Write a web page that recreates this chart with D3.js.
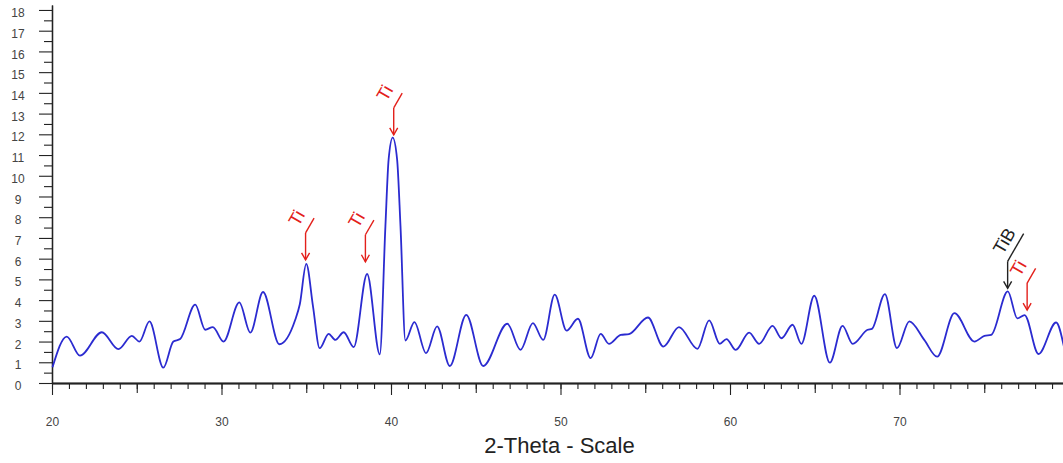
<!DOCTYPE html>
<html>
<head>
<meta charset="utf-8">
<script src="https://cdn.jsdelivr.net/npm/d3@7"></script>
<style>
  html, body { margin: 0; padding: 0; background: #fff; }
  svg { display: block; font-family: "Liberation Sans", Arial, sans-serif; }
</style>
</head>
<body>
<div id="xrdContainer"></div>
<script>
// diffractogram (peaks / troughs / flanks)
var twoTheta = [20.03, 20.87, 21.65, 22.94, 23.92, 24.71, 25.16, 25.75, 26.57, 27.16,
  27.56, 28.45, 29.04, 29.49, 30.12, 31.05, 31.70, 32.45, 33.41, 34.35,
  34.62, 35.00, 35.40, 35.79, 36.32, 36.72, 37.21, 37.80, 38.59, 39.34,
  39.67, 39.86, 40.10, 40.36, 40.56, 40.85, 41.38, 42.07, 42.72, 43.47,
  44.44, 45.44, 46.86, 47.64, 48.37, 48.98, 49.66, 50.36, 51.03, 51.78,
  52.37, 52.86, 53.55, 54.04, 55.16, 56.07, 56.99, 58.08, 58.77, 59.40,
  59.79, 60.34, 61.13, 61.72, 62.51, 63.04, 63.69, 64.21, 64.97, 65.89,
  66.64, 67.24, 68.12, 68.37, 69.14, 69.85, 70.58, 71.46, 72.22, 73.24,
  74.42, 75.01, 75.41, 76.39, 76.95, 77.38, 78.20, 79.24, 79.70]
var counts = [0.76, 2.24, 1.32, 2.45, 1.63, 2.27, 2.00, 2.97, 0.74, 2.00,
  2.12, 3.78, 2.57, 2.70, 2.00, 3.89, 2.43, 4.39, 1.87, 3.05,
  3.80, 5.75, 3.69, 1.68, 2.37, 2.08, 2.45, 1.73, 5.26, 1.38,
  7.57, 10.79, 11.84, 10.79, 7.57, 2.05, 2.94, 1.44, 2.73, 0.82,
  3.29, 0.82, 2.86, 1.60, 2.89, 2.08, 4.26, 2.53, 3.10, 1.20,
  2.37, 1.89, 2.32, 2.36, 3.16, 1.76, 2.70, 1.65, 3.02, 1.89,
  2.12, 1.60, 2.43, 1.89, 2.76, 2.16, 2.81, 1.89, 4.21, 0.98,
  2.76, 1.89, 2.57, 2.61, 4.29, 1.68, 2.97, 2.08, 1.27, 3.37,
  2.00, 2.27, 2.32, 4.42, 3.12, 3.28, 1.40, 2.92, 1.76]

// phase markers: label, 2-theta, intensity at arrow tip
var phaseLabels = ['Ti', 'Ti', 'Ti', 'TiB', 'Ti']
var phaseTheta = [34.96, 38.49, 40.16, 76.38, 77.53]
var phaseTip = [5.94, 5.85, 11.97, 4.57, 3.52]

var yTicks = d3.range(0, 19)
var xTicks = [20, 30, 40, 50, 60, 70]
var xTitle = '2-Theta - Scale'

var width = 1063, height = 463
var margin = {top: 5, left: 52, bottom: 80}

var svg = d3.select('#xrdContainer')
  .append('svg')
    .attr('width', width)
    .attr('height', height)

var x = d3.scaleLinear()
  .domain([20, 80])
  .range([margin.left, 1069])

var y = d3.scaleLinear()
  .domain([0, 18.24])
  .range([height - margin.bottom, margin.top])

var axisColor = '#222'

// x axis: minor (1), medium (5), major (10) ticks
var xg = svg.append('g')
  .attr('transform', 'translate(0,' + y(0) + ')')

xg.append('g')
  .call(d3.axisBottom(x).tickValues(d3.range(20, 81)).tickSize(6).tickSizeOuter(0).tickFormat(''))
xg.append('g')
  .call(d3.axisBottom(x).tickValues(d3.range(25, 81, 10)).tickSize(10).tickSizeOuter(0).tickFormat(''))
xg.append('g')
  .call(d3.axisBottom(x).tickValues(xTicks).tickSize(12).tickSizeOuter(0).tickPadding(22).tickFormat(d3.format('d')))

xg.selectAll('.domain').attr('stroke', axisColor).attr('stroke-width', 1.3)
xg.selectAll('.tick line').attr('stroke', axisColor).attr('stroke-width', 1.1)
xg.selectAll('.tick text')
  .attr('fill', '#444')
  .style('font-size', '12px')
  .attr('font-family', '"Liberation Sans", Arial, sans-serif')

// y axis: integers long, halves short
var yg = svg.append('g')
  .attr('transform', 'translate(' + margin.left + ',0)')

yg.append('g')
  .call(d3.axisLeft(y).tickValues(d3.range(0.5, 18.5, 1)).tickSize(8).tickSizeOuter(0).tickFormat(''))
yg.append('g')
  .call(d3.axisLeft(y).tickValues(yTicks).tickSize(13).tickSizeOuter(0).tickFormat(d3.format('d')))

yg.selectAll('.domain').attr('stroke', axisColor).attr('stroke-width', 1.3)
yg.selectAll('.tick line').attr('stroke', axisColor).attr('stroke-width', 1.1)
yg.selectAll('.tick text')
  .attr('x', -34)
  .attr('dy', '0.55em')
  .attr('text-anchor', 'middle')
  .attr('fill', '#444')
  .style('font-size', '12px')
  .attr('font-family', '"Liberation Sans", Arial, sans-serif')

// axis title
svg.append('text')
  .attr('x', (x(20) + width) / 2 + 2)
  .attr('y', 453)
  .attr('text-anchor', 'middle')
  .attr('fill', '#222')
  .style('font-size', '22px')
  .text(xTitle)

// the pattern
var points = twoTheta.map(function(t, i) { return [t, counts[i]] })
var line = d3.line()
  .x(function(d) { return x(d[0]) })
  .y(function(d) { return y(d[1]) })
  .curve(d3.curveMonotoneX)

svg.append('path')
  .datum(points)
  .attr('fill', 'none')
  .attr('stroke', '#2b2bd0')
  .attr('stroke-width', 1.8)
  .attr('d', line)

// phase markers: arrow down to peak, slanted leader, rotated label
var phaseColor = {Ti: '#e3201b', TiB: '#222'}
var leaderLen = {Ti: 17, TiB: 32}
var arrowLen = 27
var cosA = Math.cos(Math.PI / 3), sinA = Math.sin(Math.PI / 3)

phaseLabels.forEach(function(label, i) {
  var px = x(phaseTheta[i])
  var tip = y(phaseTip[i])
  var top = tip - arrowLen
  var L = leaderLen[label]
  var col = phaseColor[label]
  var g = svg.append('g').attr('stroke', col).attr('fill', 'none').attr('stroke-width', 1.4)

  g.append('line').attr('x1', px).attr('y1', top).attr('x2', px).attr('y2', tip)
  g.append('path').attr('d', 'M' + (px - 4) + ',' + (tip - 7) + 'L' + px + ',' + tip + 'L' + (px + 4) + ',' + (tip - 7))
  g.append('line')
    .attr('x1', px).attr('y1', top)
    .attr('x2', px + L * cosA).attr('y2', top - L * sinA)

  var off = label === 'TiB' ? 13 : 15
  var mx = px + L * cosA / 2 - off * sinA
  var my = top - L * sinA / 2 - off * cosA
  svg.append('text')
    .attr('transform', 'translate(' + mx + ',' + my + ') rotate(-60)')
    .attr('text-anchor', 'middle')
    .attr('dominant-baseline', 'central')
    .attr('fill', col)
    .style('font-size', '18px')
    .text(label)
})
</script>
</body>
</html>
